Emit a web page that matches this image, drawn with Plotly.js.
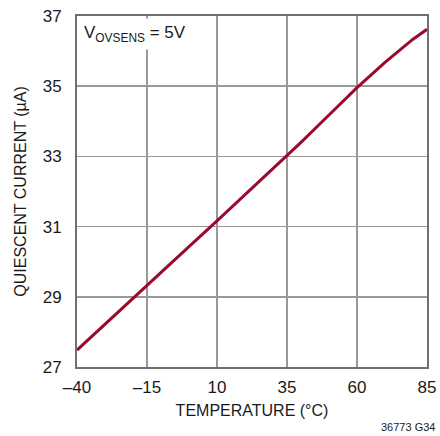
<!DOCTYPE html>
<html>
<head>
<meta charset="utf-8">
<script src="https://cdn.plot.ly/plotly-3.0.1.min.js"></script>
<style>html,body{margin:0;padding:0;background:#fff;}#chart{width:440px;height:436px;}</style>
</head>
<body>
<div id="chart"></div>
<script>
// Data
const temperatureC = [-40, -30, -20, -15, -10, 0, 10, 20, 30, 35, 40, 50, 60, 70, 75, 80, 85];
const quiescentCurrentUA = [27.48, 28.22, 28.97, 29.33, 29.70, 30.43, 31.16, 31.90, 32.65, 33.03, 33.40, 34.18, 34.96, 35.68, 36.02, 36.34, 36.62];
const xTickVals = [-40, -15, 10, 35, 60, 85];
const yTickVals = [27, 29, 31, 33, 35, 37];

const FONT = "'Liberation Sans', Arial, sans-serif";
const gridColor = '#999999';
const borderColor = '#707070';

const trace = {
  x: temperatureC,
  y: quiescentCurrentUA,
  type: 'scatter',
  mode: 'lines',
  line: {color: '#9a0a2e', width: 3},
  hoverinfo: 'skip'
};

const layout = {
  width: 440,
  height: 436,
  margin: {l: 77, r: 13, t: 16, b: 69},
  paper_bgcolor: '#ffffff',
  plot_bgcolor: '#ffffff',
  showlegend: false,
  font: {family: FONT, color: '#1a1a1a', size: 17},
  xaxis: {
    range: [-40, 85],
    tickvals: xTickVals,
    ticktext: xTickVals.map(v => v < 0 ? '\u2013' + Math.abs(v) : String(v)),
    ticks: '',
    ticklabelstandoff: 4,
    showgrid: true,
    gridcolor: gridColor,
    gridwidth: 1.5,
    zeroline: false,
    showline: true,
    linecolor: borderColor,
    linewidth: 2,
    mirror: true,
    tickfont: {family: FONT, size: 17, color: '#1a1a1a'},
    title: {text: 'TEMPERATURE (°C)', font: {family: FONT, size: 16, color: '#1a1a1a'}, standoff: 8}
  },
  yaxis: {
    range: [27, 37],
    tickvals: yTickVals,
    ticks: '',
    ticklabelstandoff: 10,
    showgrid: true,
    gridcolor: gridColor,
    gridwidth: 1.5,
    zeroline: false,
    showline: true,
    linecolor: borderColor,
    linewidth: 2,
    mirror: true,
    tickfont: {family: FONT, size: 17, color: '#1a1a1a'},
    title: {text: 'QUIESCENT CURRENT (µA)', font: {family: FONT, size: 16, color: '#1a1a1a'}, standoff: 12}
  },
  annotations: [
    {
      xref: 'paper', yref: 'paper', x: 0, y: 1,
      xanchor: 'left', yanchor: 'top', xshift: 2, yshift: -1.5,
      text: 'V<sub>OVSENS</sub> = 5V',
      showarrow: false,
      bgcolor: '#ffffff',
      borderpad: 4,
      font: {family: FONT, size: 17, color: '#1a1a1a'}
    },
    {
      xref: 'paper', yref: 'paper', x: 1, y: 0,
      xanchor: 'right', yanchor: 'middle', xshift: 10, yshift: -60,
      text: '36773 G34',
      showarrow: false,
      font: {family: FONT, size: 11, color: '#1a1a1a'}
    }
  ]
};

Plotly.newPlot('chart', [trace], layout, {staticPlot: true, displayModeBar: false});
</script>
</body>
</html>
